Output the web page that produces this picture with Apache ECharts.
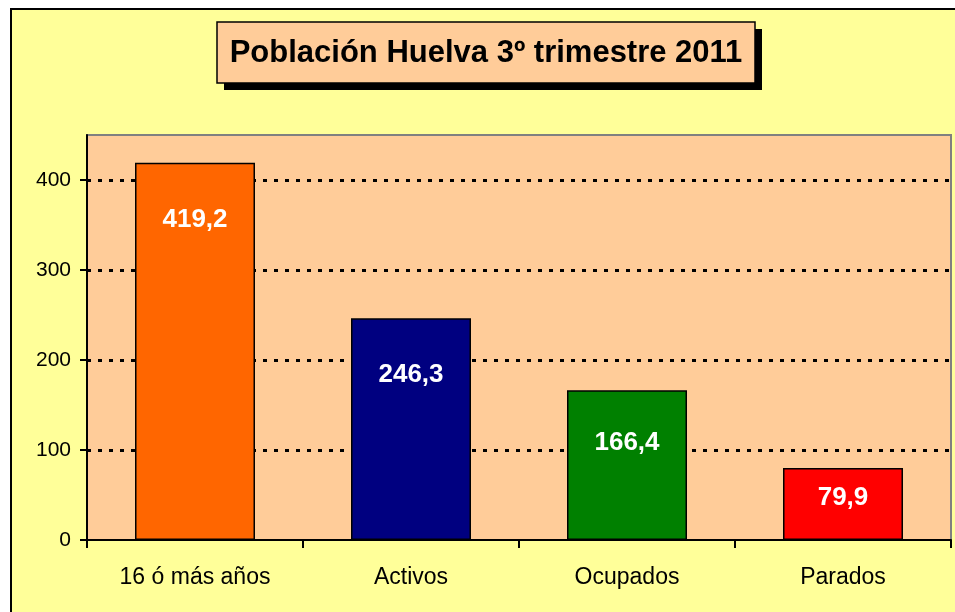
<!DOCTYPE html>
<html>
<head>
<meta charset="utf-8">
<script src="https://cdn.jsdelivr.net/npm/echarts@6/dist/echarts.min.js"></script>
<style>
  html, body { margin: 0; padding: 0; background: #fff; }
  #main { width: 955px; height: 612px; }
</style>
</head>
<body>
<div id="main"></div>
<script>
// datos
var titulo = 'Población Huelva 3º trimestre 2011';
var categorias = ['16 ó más años', 'Activos', 'Ocupados', 'Parados'];
var valores = [419.2, 246.3, 166.4, 79.9];
var colores = ['#FF6600', '#000080', '#008000', '#FF0000'];
var ticksY = [0, 100, 200, 300, 400];

// distancia de la etiqueta al borde superior de cada barra
var distEtiqueta = [44, 43, 40, 17];

var chart = echarts.init(document.getElementById('main'), null, { renderer: 'canvas' });

var datos = valores.map(function (v, i) {
  return {
    value: v,
    itemStyle: { color: colores[i] },
    label: { distance: distEtiqueta[i] }
  };
});

var option = {
  backgroundColor: '#FFFFFF',
  animation: false,
  textStyle: { fontFamily: 'Liberation Sans, Arial, sans-serif' },
  graphic: [{
    type: 'rect',
    z: -10,
    shape: { x: 11, y: 9, width: 960, height: 620 },
    style: { fill: '#FFFF99', stroke: '#000', lineWidth: 2 }
  }, {
    // sombra del título
    type: 'rect',
    z: 10,
    shape: { x: 224, y: 29, width: 538, height: 61 },
    style: { fill: '#000' }
  }, {
    type: 'rect',
    z: 11,
    shape: { x: 217, y: 22, width: 538, height: 61 },
    style: { fill: '#FFCC99', stroke: '#000', lineWidth: 1.5 }
  }, {
    type: 'text',
    z: 12,
    x: 486,
    y: 53,
    style: {
      text: titulo,
      align: 'center',
      verticalAlign: 'middle',
      fill: '#000',
      font: 'bold 31px "Liberation Sans", Arial, sans-serif'
    }
  }],
  grid: {
    show: true,
    left: 87,
    right: 4,
    top: 135,
    bottom: 72,
    backgroundColor: '#FFCC99',
    borderColor: '#808080',
    borderWidth: 2
  },
  xAxis: {
    type: 'category',
    data: categorias,
    boundaryGap: true,
    axisLine: { lineStyle: { color: '#000', width: 2 } },
    axisTick: { show: true, length: 8, lineStyle: { color: '#000', width: 2 } },
    axisLabel: { color: '#000', fontSize: 23, margin: 26 },
    splitLine: { show: false }
  },
  yAxis: {
    type: 'value',
    min: 0,
    max: 450,
    interval: 100,
    axisLine: { show: true, lineStyle: { color: '#000', width: 2 } },
    axisTick: { show: true, length: 7, customValues: ticksY, lineStyle: { color: '#000', width: 2 } },
    axisLabel: { color: '#000', fontSize: 21, margin: 16, customValues: ticksY },
    splitLine: {
      show: true,
      showMinLine: false,
      lineStyle: { color: '#000', width: 3, type: [4, 7] }
    }
  },
  series: [{
    type: 'bar',
    data: datos,
    barWidth: 120,
    itemStyle: { borderColor: '#000', borderWidth: 1.5 },
    label: {
      show: true,
      position: 'insideTop',
      color: '#FFF',
      fontSize: 26,
      fontWeight: 'bold',
      fontFamily: 'Liberation Sans, Arial, sans-serif',
      formatter: function (p) { return String(p.value).replace('.', ','); }
    }
  }]
};

chart.setOption(option);
</script>
</body>
</html>
